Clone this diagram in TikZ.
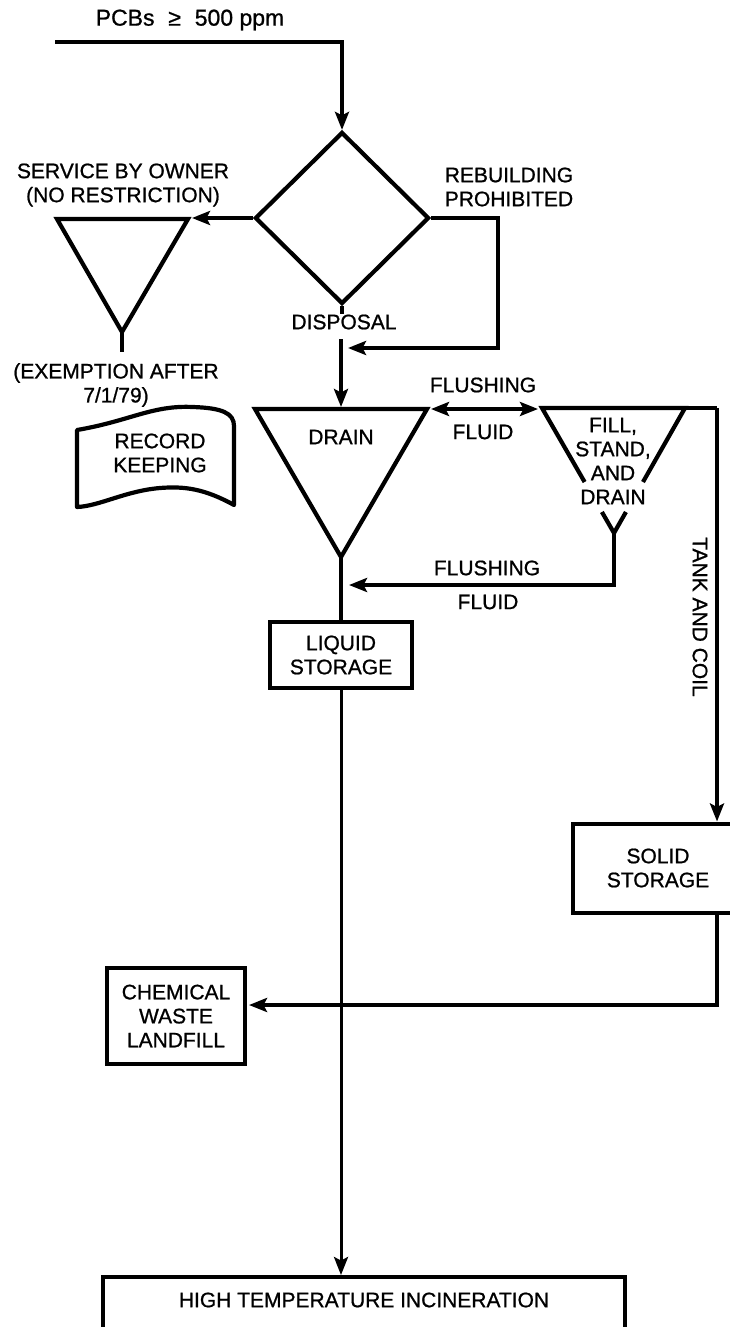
\documentclass[tikz,border=0pt]{standalone}
\usepackage{fontspec}
\setmainfont{Liberation Sans}
\newfontfamily\medfont[FakeBold=0.9]{Liberation Sans}
\usetikzlibrary{arrows.meta,shapes.geometric,calc}
\begin{document}
\begin{tikzpicture}[x=1pt,y=-1pt,
  ln/.style={line width=4.2pt},
  thinln/.style={line width=3pt},
  arr/.style={-{Stealth[length=18pt,width=14pt,inset=3.5pt]}},
  dblarr/.style={{Stealth[length=18pt,width=14pt,inset=3.5pt]}-{Stealth[length=18pt,width=14pt,inset=3.5pt]}},
  txt/.style={font=\medfont\fontsize{21}{24}\selectfont, align=center, inner sep=0pt},
  box/.style={draw, line width=4pt, txt},
]
\useasboundingbox (0,0) rectangle (730,1327);
\clip (0,0) rectangle (730,1327);

% ---------- input and decision
\coordinate (in) at (55,42);
\node[txt, font=\medfont\fontsize{23}{26}\selectfont] (pcb) at (190,20) {PCBs\hspace{0.6em}≥\hspace{0.6em}500 ppm};
\node[diamond, draw, ln, minimum width=174pt, minimum height=172pt, inner sep=0pt] (dec) at (342,218) {};
\draw[ln, arr] (in) -| (dec.north);

% ---------- service by owner
\coordinate (lt1) at (57,219);
\coordinate (lt2) at (188,219);
\coordinate (lt3) at (122,332);
\coordinate (ltstem) at (122,352);
\coordinate (ltin) at (192,219);
\draw[ln, line join=miter] (lt1) -- (lt2) -- (lt3) -- cycle;
\draw[ln] (lt3) -- (ltstem);
\draw[ln, arr] (dec.west) -- (dec.west -| ltin);
\node[txt] (svc) at (123,185) {SERVICE BY OWNER\\(NO RESTRICTION)};
\node[txt] (exm) at (116,385) {(EXEMPTION AFTER\\7/1/79)};

% ---------- record keeping
\draw[ln, line join=round]
  (77,430) .. controls (130,421) and (152,405) .. (193,407)
  .. controls (222,408) and (234,413) .. (234,426)
  -- (234,505)
  .. controls (205,489) and (185,486) .. (160,488)
  .. controls (125,491) and (100,506) .. (77,507) -- cycle;
\node[txt] (rk) at (160,453) {RECORD\\KEEPING};

% ---------- rebuilding prohibited
\coordinate (rbc) at (498,348);
\coordinate (rbin) at (348,348);
\draw[ln, arr] (dec.east) -| (rbc) -- (rbin);
\node[txt] (rbl) at (509,187) {REBUILDING\\PROHIBITED};

% ---------- disposal
\draw[ln] (dec.south) -- ++(0,8);
\node[txt] (disp) at (344,322) {DISPOSAL};
\coordinate (dstart) at (341,339);
\coordinate (dtop) at (341,407);
\draw[ln, arr] (dstart) -- (dtop);

% ---------- drain
\coordinate (dtl) at (255,409);
\coordinate (dtr) at (427,409);
\coordinate (dap) at (341,557);
\draw[ln, line join=miter] (dtl) -- (dtr) -- (dap) -- cycle;
\node[txt] (drn) at (341,437) {DRAIN};

% ---------- flushing fluid (both ways)
\coordinate (ff1) at (431,409);
\coordinate (ff2) at (538,409);
\draw[ln, dblarr] (ff1) -- (ff2);
\node[txt] (fl1) at (483,385) {FLUSHING};
\node[txt] (fd1) at (483,432) {FLUID};

% ---------- fill, stand, and drain
\coordinate (ftl) at (542,408);
\coordinate (ftr) at (685,408);
\coordinate (fap) at (614,533);
\coordinate (tk1) at (717,408);
\draw[ln] ($(ftl)!0.592!(fap)$) -- (ftl) -- (ftr) -- ($(ftr)!0.592!(fap)$);
\draw[ln] ($(ftl)!0.832!(fap)$) -- (fap) -- ($(ftr)!0.832!(fap)$);
\node[txt] (fsd) at (613,461) {FILL,\\STAND,\\AND\\DRAIN};

% ---------- flushing fluid back
\coordinate (fs1) at (614,585);
\coordinate (fs2) at (349,585);
\draw[ln, arr] (fap) -- (fs1) -- (fs2);
\node[txt] (fl2) at (487,568) {FLUSHING};
\node[txt] (fd2) at (488,602) {FLUID};

% ---------- storage boxes
\node[box, minimum width=142pt, minimum height=66pt] (liq) at (341,655) {LIQUID\\STORAGE};
\node[box, minimum width=170pt, minimum height=89pt] (sol) at (658,868) {SOLID\\STORAGE};
\node[box, minimum width=138pt, minimum height=96pt] (chem) at (176,1016) {CHEMICAL\\WASTE\\LANDFILL};
\node[draw, line width=4pt, minimum width=522pt, minimum height=80pt, anchor=north, inner sep=0pt] (inc) at (364,1275) {};
\node[txt] (inctxt) at (364,1300) {HIGH TEMPERATURE INCINERATION};

% ---------- tank and coil
\draw[ln] (ftr) -- (tk1);
\draw[ln, arr] (tk1) -- (tk1 |- sol.north);
\node[txt, rotate=-90] (tank) at (700,617) {TANK AND COIL};

% ---------- liquid path
\draw[ln] (dap) -- (liq.north);
\draw[thinln, arr] (liq.south) -- (liq.south |- inc.north);

% ---------- solid to landfill
\coordinate (chin) at (249,1005);
\draw[ln, arr] (sol.south -| tk1) |- (chin);

\end{tikzpicture}
\end{document}
